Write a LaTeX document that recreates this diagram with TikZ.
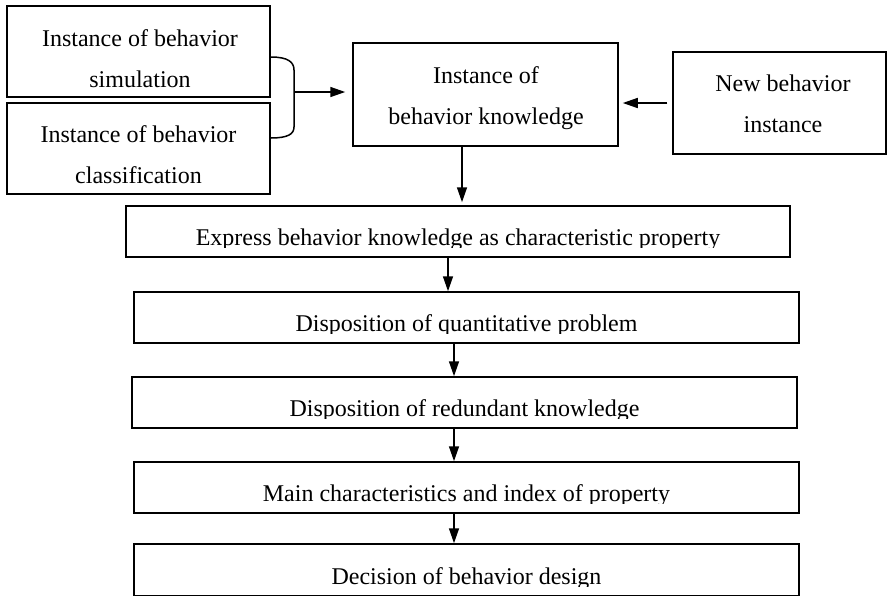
\documentclass[tikz,border=0pt]{standalone}
\usepackage{fontspec}
\setmainfont{Liberation Serif}
\usetikzlibrary{arrows.meta,positioning,calc}

\tikzset{
	box/.style={draw, line width=1.5pt, inner sep=0pt},
	topbox/.style={box, minimum width=263pt, minimum height=91pt},
	stepbox/.style={box, minimum width=665pt, minimum height=51pt},
	txt/.style={align=center, inner sep=0pt, font=\fontsize{24}{41}\selectfont},
	arr/.style={line width=1.5pt, -{Triangle[length=15pt,width=10pt]}},
}
% text of a step box, cut at the inner margin
\newcommand{\steptext}[2]{%
	\clip ([yshift=10pt]path picture bounding box.south west) rectangle (path picture bounding box.north east);
	\node[txt, anchor=base] (#1) at ([yshift=12pt]path picture bounding box.south) {#2};}

\begin{document}
\begin{tikzpicture}[x=1pt,y=-1pt]
	\useasboundingbox (0,0) rectangle (889,595);
	
		% instances
		\node[topbox] (simA) at (138.5,51.5) {};
		\node[topbox] (clsB) at (138.5,148.5) {};
		\node[box, minimum width=265pt, minimum height=103pt] (knowC) at (485.5,94.5) {};
		\node[box, minimum width=213pt, minimum height=102pt] (newD) at (779.5,103) {};
		\node[txt] (simT) at (140,58.3) {Instance of behavior\\simulation};
		\node[txt] (clsT) at (138.5,154.8) {Instance of behavior\\classification};
		\node[txt] (knowT) at (486,98) {Instance of\\behavior knowledge};
		\node[txt] (newT) at (783,103.8) {New behavior\\instance};
		
		% steps
		\node[stepbox, minimum width=664pt, path picture={\steptext{exprT}{Express behavior knowledge as characteristic property}}] (express) at (458,231.5) {};
		\node[stepbox, path picture={\steptext{quantT}{Disposition of quantitative problem}}] (quant) at (466.5,317.5) {};
		\node[stepbox, path picture={\steptext{redundT}{Disposition of redundant knowledge}}] (redund) at (464.5,402.5) {};
		\node[stepbox, path picture={\steptext{mainT}{Main characteristics and index of property}}] (mainP) at (466.5,487.5) {};
		\node[stepbox, minimum height=52pt, path picture={\steptext{decisT}{Decision of behavior design}}] (decis) at (466.5,570) {};
		
		% joining bracket
		\coordinate (join) at (294,92);
		\draw[line width=1.5pt] ([yshift=-5.5pt]simA.east) .. controls (288,57) and (294,62) .. (294,70) -- (294,127) .. controls (294,134) and (288,138) .. ([yshift=10.5pt]clsB.east);
		\draw[arr, shorten >=7pt] (join) -- (join -| knowC.west);
		\draw[arr, shorten <=5pt, shorten >=4pt] (newD.west) -- (newD.west -| knowC.east);
		
		\draw[arr, shorten >=3pt] ([xshift=4pt]express.north |- knowC.south) -- ([xshift=4pt]express.north);
		\draw[arr] ([xshift=-10pt]express.south) -- ([xshift=-10pt]express.south |- quant.north);
		\foreach \a/\b/\s in {quant/redund/-12.5, redund/mainP/-10.5, mainP/decis/-12.5}
		\draw[arr] ([xshift=\s pt]\a.south) -- ([xshift=\s pt]\a.south |- \b.north);
		
\end{tikzpicture}
\end{document}
